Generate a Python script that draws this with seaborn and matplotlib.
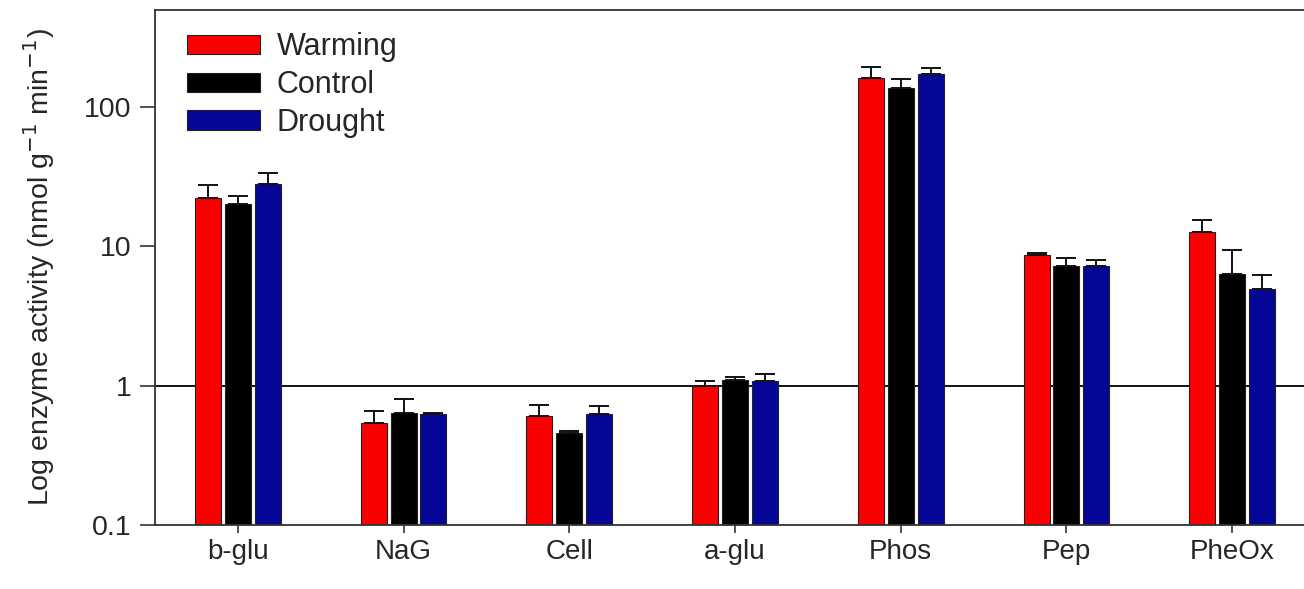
import pandas as pd
import matplotlib
matplotlib.use("Agg")
import matplotlib.pyplot as plt
import numpy as np
import seaborn as sns

# enzyme activity, nmol g-1 min-1
enzymes = ['b-glu', 'NaG', 'Cell', 'a-glu', 'Phos', 'Pep', 'PheOx']
treatments = ['Warming', 'Control', 'Drought']

warming = [22.0, 0.54, 0.60, 1.00, 160.0, 8.6, 12.6]
control = [20.0, 0.64, 0.46, 1.10, 135.0, 7.2, 6.3]
drought = [28.0, 0.62, 0.63, 1.07, 170.0, 7.2, 4.9]

# upper error (SE)
warming_se = [5.5, 0.12, 0.13, 0.08, 32.0, 0.3, 2.7]
control_se = [3.0, 0.16, 0.01, 0.05, 23.0, 1.0, 3.0]
drought_se = [5.5, 0.02, 0.08, 0.13, 20.0, 0.7, 1.3]

colors = ['#fa0000', '#000000', '#050596']

df = pd.DataFrame({
    'enzyme': enzymes * 3,
    'treatment': np.repeat(treatments, len(enzymes)),
    'activity': warming + control + drought,
    'se': warming_se + control_se + drought_se,
})

sns.set_style('ticks')
plt.rcParams['font.family'] = ['Liberation Sans', 'DejaVu Sans']

fig = plt.figure(figsize=(13.04, 5.89), dpi=100)
ax = fig.add_axes([155 / 1304, 1 - 525 / 589, 1160 / 1304, 515 / 589])

sns.barplot(data=df, x='enzyme', y='activity', hue='treatment', order=enzymes,
            hue_order=treatments, palette=colors, saturation=1, width=0.54, gap=0.13,
            edgecolor='#222222', linewidth=0.8, errorbar=None, ax=ax)
ax.set_yscale('log')

# error bars, only the upper half
for cont, t in zip(ax.containers, treatments):
    sub = df[df['treatment'] == t].set_index('enzyme').loc[enzymes]
    xs = [b.get_x() + b.get_width() / 2 for b in cont]
    ax.errorbar(xs, sub['activity'], yerr=[np.zeros(len(xs)), sub['se']],
                fmt='none', ecolor='#111111', elinewidth=1.4, capsize=7, capthick=1.4)

ax.axhline(1, color='black', linewidth=1.3, zorder=0.5)

ax.set_ylim(0.1, 493)
ax.set_xlim(-0.5, 6.5)
ax.set_yticks([0.1, 1, 10, 100])
ax.set_yticklabels(['0.1', '1', '10', '100'])
ax.yaxis.set_minor_locator(matplotlib.ticker.NullLocator())
ax.tick_params(axis='y', length=11, width=1.2, labelsize=20.5, pad=6, color='#333333')
ax.tick_params(axis='x', length=6, width=1.2, labelsize=20, pad=4, color='#333333')

ax.set_xlabel('')
ax.set_ylabel('Log enzyme activity (nmol g$^{-1}$ min$^{-1}$)', fontsize=20.5)
ax.yaxis.set_label_coords(-98 / 1160, 0.5)

for side in ['left', 'bottom', 'top']:
    ax.spines[side].set_linewidth(1.3)
    ax.spines[side].set_color('#333333')
ax.spines['right'].set_visible(False)

ax.legend(loc='upper left', frameon=False, fontsize=22, handlelength=2.4,
          handleheight=0.6, labelspacing=0.25, handletextpad=0.55,
          bbox_to_anchor=(0.009, 0.998), borderaxespad=0.3)

fig.savefig('out.png', dpi=100)
